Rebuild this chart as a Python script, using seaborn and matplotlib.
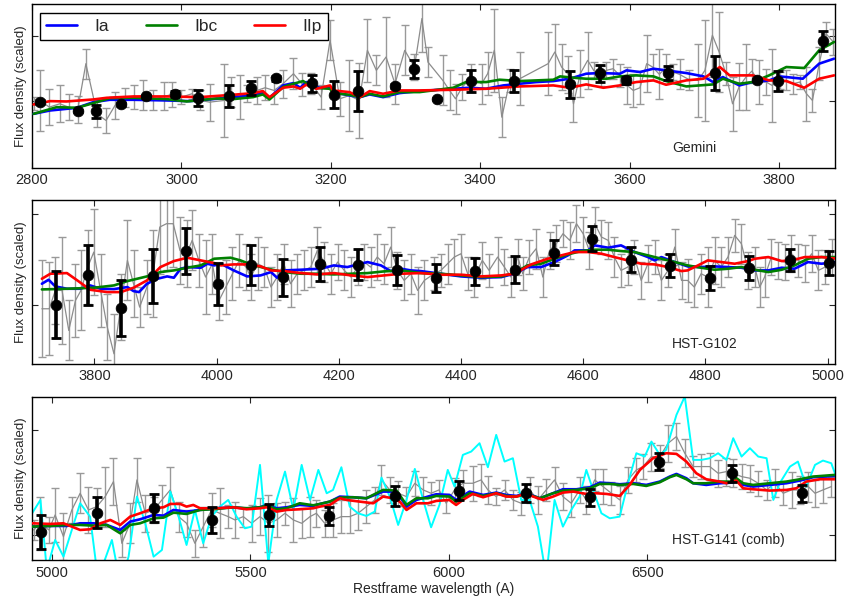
import matplotlib
matplotlib.use('Agg')
import matplotlib.pyplot as plt
from matplotlib.lines import Line2D
import seaborn as sns

# ---- Gemini panel ----
g1_wave = [2802, 2811, 2823, 2837, 2849, 2861, 2872, 2887, 2899, 2911, 2924, 2936, 2949, 2962, 2976, 2988, 3000, 3014, 3025, 3038,
           3057, 3066, 3078, 3088, 3101, 3112, 3124, 3136, 3150, 3162, 3174, 3187, 3199, 3212, 3225, 3238, 3249, 3261, 3274, 3286,
           3299, 3312, 3322, 3330, 3350, 3359, 3367, 3376, 3388, 3402, 3410, 3419, 3429, 3440, 3453, 3491, 3500, 3509, 3518, 3525,
           3534, 3544, 3552, 3562, 3569, 3578, 3587, 3597, 3605, 3614, 3623, 3631, 3640, 3649, 3658, 3667, 3680, 3692, 3701, 3711,
           3720, 3729, 3738, 3747, 3756, 3764, 3773, 3783, 3791, 3801, 3810, 3819, 3828, 3837, 3845, 3854, 3863, 3873]
g1_flux = [191, 201, 181, 191, 181, 173, 311, 161, 141, 186, 209, 211, 216, 203, 213, 219, 211, 221, 201, 196,
           201, 226, 211, 221, 231, 239, 231, 251, 281, 249, 251, 211, 381, 206, 216, 201, 351, 291, 331, 251,
           351, 301, 446, 316, 261, 231, 206, 241, 269, 251, 281, 351, 151, 261, 266, 311, 346, 301, 279, 191,
           281, 321, 291, 273, 291, 296, 276, 246, 231, 239, 311, 301, 279, 301, 286, 279, 263, 261, 291, 396,
           346, 281, 191, 243, 271, 289, 256, 256, 246, 261, 261, 251, 256, 221, 201, 311, 401, 376]
g1_err = [20, 92, 54, 55, 38, 40, 45, 40, 37, 40, 28, 37, 45, 30, 42, 38, 20, 15, 30, 55,
          110, 45, 65, 25, 40, 37, 40, 42, 47, 35, 32, 35, 60, 50, 105, 112, 95, 45, 120, 60,
          75, 40, 100, 45, 75, 60, 45, 40, 40, 60, 65, 125, 60, 35, 80, 95, 85, 70, 55, 55,
          70, 85, 25, 30, 25, 30, 35, 55, 50, 50, 85, 40, 75, 40, 25, 45, 30, 110, 150, 125,
          120, 35, 80, 70, 100, 35, 65, 40, 110, 25, 30, 30, 20, 80, 35, 50, 35, 40]

b1_wave = [2810, 2861, 2886, 2919, 2952, 2992, 3022, 3063, 3093, 3126, 3175, 3204, 3237, 3286, 3312,
           3342, 3388, 3445, 3520, 3560, 3595, 3652, 3715, 3771, 3799, 3859]
b1_flux = [196, 169, 168, 189, 213, 220, 208, 215, 238, 267, 252, 218, 228, 244, 295,
           204, 258, 258, 249, 282, 261, 283, 283, 261, 259, 379]
b1_err = [6, 3, 18, 5, 5, 8, 25, 33, 20, 8, 25, 40, 60, 5, 27,
          3, 33, 33, 41, 25, 10, 22, 52, 3, 30, 30]

ia1_wave = [2802, 2824, 2860, 2882, 2904, 2936, 2980, 3011, 3047, 3069, 3096, 3109, 3118, 3136, 3150, 3159, 3167, 3185,
            3199, 3203, 3225, 3239, 3252, 3270, 3292, 3319, 3364, 3386, 3408, 3431, 3453, 3475, 3498, 3520, 3542, 3560,
            3587, 3596, 3614, 3632, 3649, 3676, 3699, 3712, 3725, 3747, 3765, 3787, 3801, 3832, 3854, 3874]
ia1_flux = [161, 171, 179, 196, 203, 203, 201, 199, 206, 211, 216, 223, 209, 246, 253, 239, 256, 239,
            239, 226, 216, 211, 219, 211, 223, 229, 236, 239, 236, 246, 251, 256, 259, 266, 281, 283,
            281, 291, 286, 296, 291, 283, 273, 256, 271, 246, 256, 261, 273, 266, 311, 326]
ibc1_wave = [2802, 2833, 2860, 2882, 2904, 2936, 2980, 3007, 3047, 3069, 3096, 3109, 3118, 3136, 3150, 3163, 3176,
             3199, 3203, 3225, 3239, 3252, 3270, 3292, 3319, 3364, 3381, 3408, 3426, 3453, 3498, 3507, 3525, 3542,
             3569, 3587, 3609, 3632, 3649, 3676, 3712, 3725, 3747, 3765, 3787, 3810, 3834, 3854, 3874]
ibc1_flux = [161, 181, 179, 193, 208, 209, 205, 198, 207, 205, 211, 219, 204, 241, 251, 259, 239,
             236, 223, 218, 211, 221, 213, 226, 226, 239, 256, 256, 263, 259, 263, 273, 269, 266,
             266, 273, 276, 273, 259, 243, 249, 266, 251, 256, 276, 301, 298, 351, 376]
iip1_wave = [2802, 2824, 2846, 2882, 2900, 2936, 2980, 3025, 3069, 3096, 3109, 3118, 3136, 3150, 3159, 3167, 3181,
             3199, 3203, 3225, 3239, 3252, 3270, 3292, 3319, 3364, 3408, 3453, 3498, 3520, 3542, 3565, 3587, 3609,
             3632, 3649, 3676, 3699, 3721, 3734, 3765, 3787, 3810, 3834, 3854, 3874]
iip1_flux = [189, 199, 198, 204, 209, 213, 213, 211, 218, 223, 229, 211, 239, 243, 236, 248, 236,
             246, 231, 226, 211, 229, 221, 231, 231, 233, 236, 243, 246, 239, 249, 239, 246, 256,
             261, 248, 261, 266, 301, 276, 276, 261, 259, 239, 266, 276]

# ---- HST-G102 panel ----
g2_wave = [3714, 3726, 3736, 3747, 3758, 3769, 3778, 3789, 3799, 3810, 3821, 3832, 3843, 3854, 3864, 3874, 3886, 3896, 3907, 3918,
           3929, 3940, 3951, 3960, 3971, 3982, 3993, 4004, 4015, 4026, 4037, 4048, 4056, 4067, 4078, 4089, 4099, 4110, 4121, 4132,
           4143, 4154, 4165, 4176, 4187, 4198, 4209, 4220, 4231, 4242, 4252, 4263, 4274, 4285, 4296, 4307, 4318, 4329, 4340, 4356,
           4367, 4378, 4389, 4400, 4411, 4422, 4435, 4446, 4460, 4471, 4482, 4493, 4501, 4512, 4523, 4534, 4545, 4556, 4567, 4578,
           4589, 4600, 4610, 4619, 4630, 4641, 4651, 4662, 4673, 4684, 4695, 4706, 4717, 4728, 4739, 4750, 4761, 4771, 4782, 4793,
           4804, 4815, 4826, 4837, 4848, 4859, 4870, 4881, 4889, 4897, 4908, 4919, 4930, 4941, 4952, 4963, 4974, 4985, 4996, 5007]
g2_flux = [165, 165, 220, 220, 100, 190, 220, 290, 335, 220, 110, 30, 170, 310, 240, 170, 230, 270, 410, 420,
           420, 340, 330, 370, 310, 260, 300, 190, 230, 270, 310, 290, 260, 300, 290, 230, 260, 300, 240, 270,
           280, 290, 340, 305, 270, 305, 280, 260, 290, 305, 290, 320, 300, 350, 280, 250, 270, 220, 250, 270,
           280, 300, 320, 330, 270, 260, 310, 280, 320, 290, 260, 320, 270, 320, 345, 260, 340, 360, 390, 370,
           420, 390, 340, 420, 380, 370, 320, 280, 290, 320, 250, 300, 320, 250, 280, 350, 250, 250, 230, 270,
           260, 310, 290, 320, 385, 360, 280, 290, 230, 260, 320, 310, 305, 330, 310, 300, 330, 280, 290, 320]
g2_err = [145, 140, 100, 160, 90, 110, 120, 110, 130, 110, 100, 120, 100, 120, 100, 60, 80, 130, 140, 140,
          130, 100, 100, 90, 80, 110, 90, 60, 80, 80, 80, 70, 70, 80, 60, 60, 70, 60, 70, 60,
          60, 60, 70, 60, 60, 55, 60, 60, 55, 55, 60, 70, 60, 60, 55, 60, 60, 70, 60, 50,
          50, 60, 55, 60, 50, 60, 55, 50, 60, 55, 60, 55, 50, 50, 60, 60, 55, 55, 40, 55,
          55, 50, 55, 50, 50, 55, 60, 50, 55, 50, 55, 55, 50, 60, 50, 55, 55, 65, 60, 60,
          90, 70, 60, 60, 50, 60, 55, 60, 60, 60, 55, 55, 55, 55, 50, 55, 55, 60, 50, 55]

b2_wave = [3737, 3790, 3844, 3896, 3950, 4003, 4057, 4109, 4169, 4232, 4295,
           4359, 4423, 4488, 4552, 4615, 4679, 4742, 4807, 4871, 4939, 5002]
b2_flux = [177, 267, 167, 263, 338, 238, 297, 259, 300, 297, 280,
           257, 277, 282, 333, 375, 312, 294, 257, 287, 312, 302]
b2_err = [100, 90, 83, 80, 69, 63, 60, 55, 51, 47, 45,
          42, 40, 40, 37, 38, 38, 35, 35, 36, 33, 35]

ia2_wave = [3714, 3725, 3736, 3755, 3777, 3793, 3810, 3832, 3854, 3864, 3873, 3886, 3903, 3919, 3930, 3941, 3952, 3974,
            3985, 3996, 4007, 4028, 4050, 4072, 4089, 4099, 4110, 4138, 4170, 4192, 4214, 4247, 4269, 4285, 4302, 4318,
            4334, 4367, 4400, 4433, 4466, 4487, 4509, 4531, 4553, 4575, 4586, 4608, 4619, 4641, 4662, 4684, 4706, 4717,
            4728, 4750, 4771, 4793, 4815, 4837, 4859, 4881, 4903, 4925, 4946, 4968, 4990, 5015]
ia2_flux = [240, 252, 232, 225, 225, 235, 225, 224, 230, 218, 215, 240, 255, 262, 258, 285, 290, 288,
            300, 295, 300, 280, 262, 265, 275, 258, 280, 282, 285, 295, 290, 305, 295, 278, 285, 280,
            278, 270, 262, 258, 260, 270, 290, 290, 305, 325, 340, 340, 355, 348, 355, 335, 320, 310,
            320, 305, 292, 290, 292, 290, 288, 280, 280, 288, 285, 305, 300, 305]
ibc2_wave = [3714, 3755, 3799, 3832, 3854, 3886, 3908, 3930, 3952, 3974, 3996, 4023, 4039, 4056, 4083, 4110, 4138,
             4165, 4192, 4220, 4247, 4274, 4302, 4334, 4367, 4400, 4433, 4466, 4487, 4509, 4531, 4553, 4575, 4597,
             4619, 4641, 4662, 4684, 4706, 4728, 4750, 4771, 4793, 4815, 4837, 4859, 4881, 4903, 4925, 4946, 4968,
             4990, 5015]
ibc2_flux = [223, 225, 228, 235, 248, 262, 275, 280, 288, 295, 315, 318, 310, 298, 285, 275, 270,
             270, 268, 270, 272, 277, 280, 272, 270, 265, 260, 262, 272, 295, 300, 315, 328, 338,
             342, 342, 338, 335, 325, 315, 305, 295, 288, 282, 285, 290, 282, 275, 282, 295, 315,
             320, 320]
iip2_wave = [3714, 3728, 3755, 3772, 3793, 3821, 3843, 3864, 3886, 3908, 3930, 3952, 3974, 3996, 4007, 4028, 4050,
             4072, 4089, 4110, 4138, 4165, 4192, 4220, 4247, 4274, 4302, 4334, 4367, 4400, 4433, 4466, 4487, 4515,
             4542, 4564, 4586, 4608, 4630, 4651, 4673, 4695, 4717, 4739, 4761, 4771, 4788, 4804, 4826, 4848, 4870,
             4881, 4903, 4925, 4941, 4963, 4990, 5015]
iip2_flux = [255, 270, 272, 250, 222, 215, 215, 228, 250, 290, 308, 318, 310, 302, 295, 298, 298,
             292, 280, 278, 272, 268, 272, 265, 260, 265, 270, 272, 267, 267, 262, 265, 270, 298,
             315, 325, 335, 335, 330, 320, 310, 300, 298, 290, 278, 280, 295, 310, 305, 300, 308,
             315, 320, 308, 310, 320, 320, 315]

# ---- HST-G141 (comb) panel ----
g3_wave = [4954, 4971, 4992, 5008, 5029, 5050, 5071, 5092, 5113, 5134, 5155, 5176, 5197, 5214, 5235, 5256, 5277, 5298, 5319, 5339,
           5360, 5381, 5402, 5423, 5444, 5461, 5482, 5503, 5524, 5545, 5566, 5587, 5608, 5629, 5650, 5666, 5687, 5708, 5729, 5750,
           5771, 5792, 5813, 5830, 5851, 5872, 5893, 5914, 5935, 5955, 5975, 5993, 6014, 6035, 6060, 6081, 6098, 6119, 6140, 6161,
           6182, 6203, 6224, 6245, 6266, 6287, 6308, 6329, 6346, 6367, 6388, 6409, 6430, 6451, 6472, 6489, 6510, 6531, 6552, 6573,
           6594, 6615, 6636, 6657, 6678, 6699, 6716, 6737, 6758, 6779, 6800, 6821, 6842, 6863, 6884, 6905, 6922, 6942, 6963]
g3_flux = [90, 110, 90, 135, 70, 150, 200, 150, 160, 190, 235, 50, 110, 240, 140, 150, 180, 210, 130, 110,
           50, 100, 150, 140, 130, 120, 130, 110, 130, 110, 120, 140, 120, 110, 130, 140, 110, 120, 130, 130,
           140, 160, 180, 240, 210, 200, 190, 230, 210, 200, 210, 170, 210, 230, 230, 240, 210, 190, 210, 180,
           170, 210, 180, 210, 240, 190, 170, 210, 180, 240, 220, 200, 180, 240, 270, 280, 310, 310, 350, 370,
           320, 280, 280, 280, 260, 265, 260, 250, 245, 230, 210, 230, 200, 210, 210, 220, 200, 210, 220]
g3_err = [30, 80, 40, 80, 70, 40, 60, 70, 55, 90, 70, 40, 60, 65, 55, 40, 45, 70, 45, 40,
          40, 60, 50, 75, 35, 55, 30, 55, 55, 85, 50, 35, 65, 45, 60, 40, 40, 50, 50, 50,
          50, 50, 40, 45, 40, 38, 30, 38, 40, 35, 30, 28, 35, 40, 52, 48, 42, 25, 30, 30,
          35, 40, 42, 32, 40, 40, 40, 40, 42, 32, 52, 35, 42, 38, 35, 38, 42, 35, 55, 40,
          42, 32, 38, 40, 40, 42, 42, 38, 40, 38, 30, 42, 35, 55, 42, 45, 40, 38, 30]

c3_wave = [4950, 4971, 4987, 5008, 5029, 5050, 5071, 5096, 5113, 5130, 5151, 5172, 5193, 5214, 5235, 5256, 5277, 5298, 5319, 5339,
           5360, 5381, 5402, 5423, 5444, 5465, 5486, 5503, 5524, 5545, 5566, 5587, 5608, 5629, 5650, 5671, 5692, 5708, 5729, 5750,
           5771, 5792, 5813, 5830, 5851, 5872, 5893, 5914, 5935, 5955, 5976, 5997, 6014, 6035, 6056, 6077, 6098, 6119, 6140, 6161,
           6182, 6203, 6224, 6245, 6266, 6287, 6308, 6329, 6346, 6363, 6384, 6405, 6430, 6451, 6472, 6493, 6510, 6531, 6547, 6573,
           6594, 6615, 6636, 6657, 6678, 6699, 6716, 6737, 6758, 6779, 6800, 6817, 6833, 6859, 6879, 6900, 6922, 6942, 6963, 6972]
c3_flux = [140, 180, -30, 60, 10, 90, 170, 130, -30, -10, 60, -70, 10, 190, 110, 10, 30, 205, 130, 45,
           150, 50, 130, 160, 180, 130, 95, 100, 285, -10, 180, 265, 150, 285, 180, 270, 200, 210, 278, 160,
           140, 132, 145, 247, 190, 105, 180, 273, 180, 98, 165, 270, 220, 315, 325, 350, 278, 375, 295, 305,
           180, 180, 100, -50, 180, 100, 150, 190, 270, 210, 140, 125, 130, 230, 320, 310, 355, 315, 330, 435,
           490, 300, 300, 305, 320, 300, 365, 310, 335, 310, 305, 180, 230, 280, 295, 220, 285, 298, 290, 260]

b3_wave = [4973, 5114, 5258, 5403, 5547, 5698, 5864, 6025, 6193, 6354, 6530, 6714, 6890]
b3_flux = [83, 142, 155, 120, 135, 133, 192, 208, 200, 188, 295, 260, 200]
b3_err = [51, 46, 42, 40, 34, 27, 30, 28, 27, 26, 26, 26, 26]

t3_wave = [4950, 4996, 5038, 5071, 5105, 5138, 5172, 5197, 5222, 5256, 5281, 5306, 5339, 5373, 5415, 5457, 5490, 5524,
           5541, 5566, 5591, 5624, 5658, 5675, 5700, 5725, 5759, 5792, 5834, 5868, 5893, 5918, 5947, 5968, 6001, 6018,
           6052, 6086, 6119, 6144, 6170, 6195, 6229, 6262, 6287, 6321, 6355, 6380, 6405, 6430, 6464, 6497, 6531, 6556,
           6573, 6598, 6615, 6648, 6682, 6716, 6724, 6741, 6766, 6808, 6850, 6884, 6917, 6972]
ia3_flux = [100, 102, 102, 110, 110, 105, 90, 115, 122, 135, 133, 150, 145, 150, 155, 158, 154, 158,
            165, 155, 158, 165, 162, 168, 175, 190, 188, 185, 205, 205, 160, 180, 190, 197, 195, 180,
            205, 195, 202, 195, 192, 200, 185, 200, 212, 212, 218, 232, 230, 227, 230, 225, 235, 250,
            258, 245, 230, 225, 230, 232, 242, 225, 220, 225, 230, 238, 248, 252]
ibc3_flux = [100, 102, 105, 105, 103, 105, 80, 105, 110, 125, 127, 142, 138, 150, 153, 158, 155, 158,
             163, 152, 155, 170, 164, 168, 175, 187, 188, 185, 210, 208, 165, 185, 185, 192, 190, 175,
             200, 192, 200, 192, 190, 198, 185, 200, 208, 210, 215, 228, 228, 225, 228, 222, 233, 248,
             255, 242, 230, 230, 235, 235, 245, 230, 225, 230, 235, 242, 250, 255]
iip3_wave = [4950, 4996, 5029, 5071, 5096, 5122, 5147, 5172, 5197, 5222, 5256, 5281, 5298, 5323, 5339, 5356, 5373,
             5415, 5457, 5490, 5524, 5541, 5566, 5591, 5624, 5658, 5675, 5700, 5725, 5742, 5775, 5809, 5834, 5859,
             5876, 5893, 5918, 5947, 5968, 6001, 6018, 6035, 6060, 6086, 6119, 6144, 6170, 6195, 6212, 6237, 6262,
             6287, 6313, 6346, 6371, 6397, 6430, 6455, 6481, 6514, 6547, 6573, 6598, 6623, 6648, 6682, 6699, 6724,
             6741, 6766, 6808, 6850, 6875, 6900, 6934, 6972]
iip3_flux = [110, 108, 110, 90, 92, 110, 120, 105, 130, 140, 155, 158, 168, 168, 160, 165, 155,
             155, 158, 152, 155, 158, 145, 150, 152, 155, 160, 165, 185, 180, 175, 170, 190, 185,
             175, 150, 170, 170, 177, 180, 165, 180, 198, 188, 200, 190, 190, 200, 190, 180, 190,
             202, 205, 198, 200, 198, 192, 225, 270, 305, 320, 318, 295, 260, 242, 235, 230, 238,
             215, 212, 208, 210, 215, 235, 242, 242]

COL_IA, COL_IBC, COL_IIP = '#0000ff', '#008000', '#ff0000'

sns.set_style('ticks')
plt.rcParams['font.family'] = ['Liberation Sans', 'DejaVu Sans']
plt.rcParams['xtick.direction'] = 'in'
plt.rcParams['ytick.direction'] = 'in'

fig, axes = plt.subplots(3, 1, figsize=(8.45, 5.97), dpi=100)
fig.subplots_adjust(left=0.038, right=0.988, top=0.993, bottom=0.062, hspace=0.2)


def draw_panel(ax, gw, gf, ge, bw, bf, be, templates, xlim, xticks, yticks, name, ylim):
    ax.errorbar(gw, gf, yerr=ge, fmt='none', ecolor='0.6', elinewidth=1.0,
                capsize=3, capthick=1.0, zorder=1)
    sns.lineplot(x=gw, y=gf, ax=ax, color='0.55', lw=0.9, estimator=None,
                 sort=False, legend=False, zorder=1)
    for tw, tf, col in templates:
        sns.lineplot(x=tw, y=tf, ax=ax, color=col, lw=1.9, estimator=None,
                     sort=False, legend=False, zorder=3)
    ax.errorbar(bw, bf, yerr=be, fmt='none', ecolor='k', elinewidth=2.6,
                capsize=3.5, capthick=2.0, zorder=4)
    sns.scatterplot(x=bw, y=bf, ax=ax, color='k', s=60, edgecolor='k',
                    linewidth=0.5, legend=False, zorder=5)
    ax.set_xlim(*xlim)
    ax.set_ylim(*ylim)
    ax.set_xticks(xticks)
    ax.set_yticks(yticks)
    ax.set_yticklabels([])
    ax.tick_params(axis='both', which='both', top=True, right=True, length=4,
                   width=0.8, labelsize=10.5, pad=4)
    for sp in ax.spines.values():
        sp.set_linewidth(1.0)
        sp.set_color('k')
    ax.set_ylabel('Flux density (scaled)', fontsize=9.5, labelpad=0)
    ax.set_xlabel('')
    ax.text(0.797, 0.12, name, transform=ax.transAxes, fontsize=10, va='center', ha='left')


ax1, ax2, ax3 = axes
draw_panel(ax1, g1_wave, g1_flux, g1_err, b1_wave, b1_flux, b1_err,
           [(ia1_wave, ia1_flux, COL_IA), (ibc1_wave, ibc1_flux, COL_IBC), (iip1_wave, iip1_flux, COL_IIP)],
           (2800, 3875), [2800, 3000, 3200, 3400, 3600, 3800], [200, 395], 'Gemini', (0, 489))
draw_panel(ax2, g2_wave, g2_flux, g2_err, b2_wave, b2_flux, b2_err,
           [(ia2_wave, ia2_flux, COL_IA), (ibc2_wave, ibc2_flux, COL_IBC), (iip2_wave, iip2_flux, COL_IIP)],
           (3698, 5012), [3800, 4000, 4200, 4400, 4600, 4800, 5000], [175, 450], 'HST-G102', (0, 490))

sns.lineplot(x=c3_wave, y=c3_flux, ax=ax3, color='#00ffff', lw=1.4, estimator=None,
             sort=False, legend=False, zorder=2)
draw_panel(ax3, g3_wave, g3_flux, g3_err, b3_wave, b3_flux, b3_err,
           [(t3_wave, ia3_flux, COL_IA), (t3_wave, ibc3_flux, COL_IBC), (iip3_wave, iip3_flux, COL_IIP)],
           (4950, 6972), [5000, 5500, 6000, 6500], [75, 390], 'HST-G141 (comb)', (0, 490))
ax3.set_xlabel('Restframe wavelength (A)', fontsize=10, labelpad=2)

handles = [Line2D([], [], color=COL_IA, lw=1.9), Line2D([], [], color=COL_IBC, lw=1.9),
           Line2D([], [], color=COL_IIP, lw=1.9)]
leg = ax1.legend(handles, ['Ia', 'Ibc', 'IIp'], loc='upper left', bbox_to_anchor=(0.01, 0.945),
                 borderaxespad=0, ncol=3, fontsize=12.5, frameon=True, fancybox=False,
                 handlelength=1.8, handletextpad=1.0, columnspacing=2.1,
                 borderpad=0.35, framealpha=1)
leg.get_frame().set_edgecolor('k')
leg.get_frame().set_linewidth(1.0)

fig.savefig('out.png', dpi=100)
